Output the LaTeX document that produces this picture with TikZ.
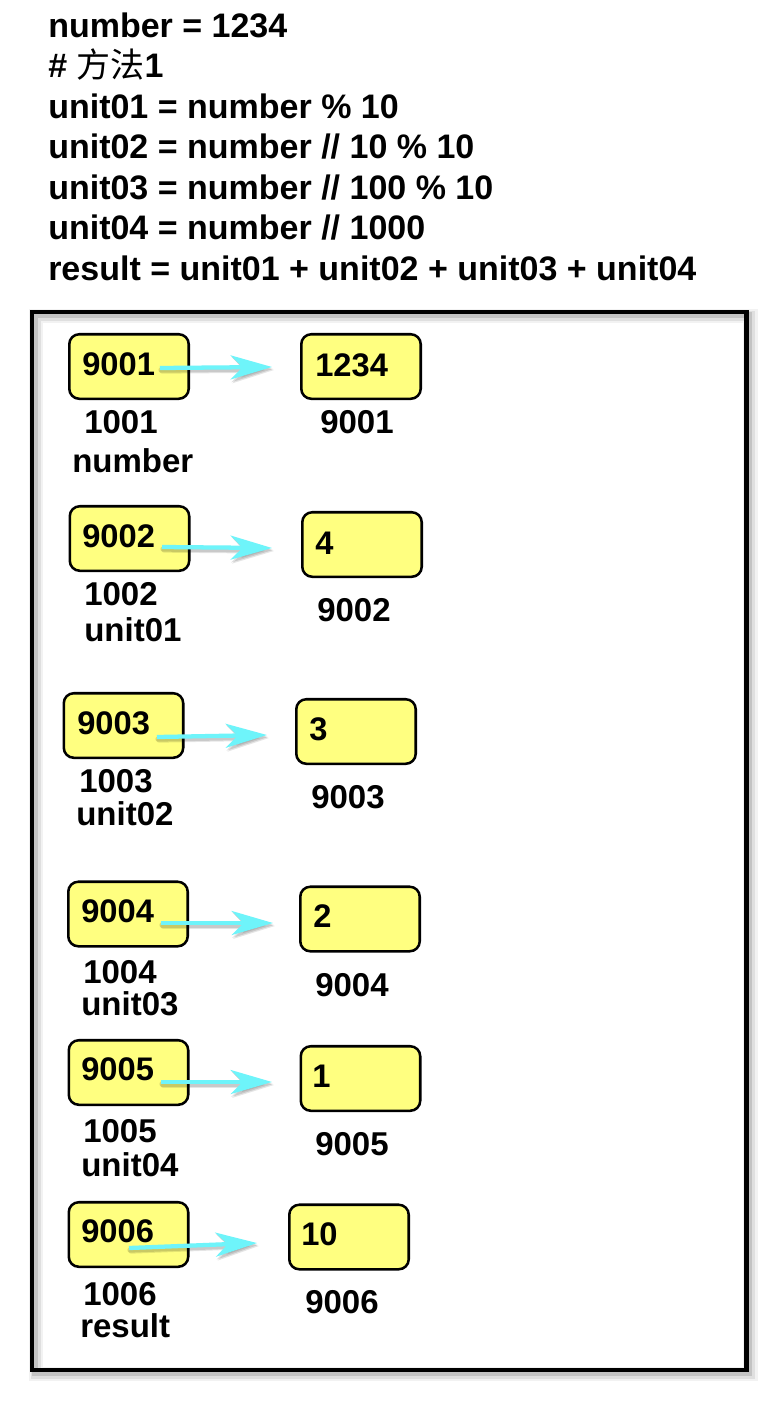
\documentclass[tikz,border=0pt]{standalone}
\usepackage{fontspec}
\setmainfont{Liberation Sans}
\newfontfamily\cjk{Noto Sans CJK SC}
\usetikzlibrary{arrows.meta}
\definecolor{boxyellow}{RGB}{255,255,128}
\definecolor{arrowcyan}{RGB}{110,244,250}
\begin{document}
\begin{tikzpicture}[x=0.75pt,y=-0.75pt,
  codetxt/.style={anchor=base west, inner sep=0, font=\fontsize{25.5}{30}\selectfont\bfseries},
  lbltxt/.style={anchor=base west, inner sep=0, font=\fontsize{24.75}{30}\selectfont\bfseries},
  boxtxt/.style={anchor=base west, inner sep=0, font=\fontsize{24.5}{28}\selectfont\bfseries},
  membox/.style={draw=black, line width=1.9pt, fill=boxyellow, rounded corners=7.5pt,
    minimum width=89.6pt, minimum height=48.4pt, inner sep=0},
  ptr/.style={draw=arrowcyan, line width=3.2pt, -{Stealth[length=31pt,width=18pt,inset=9pt]}},
  ptrshadow/.style={draw=black, opacity=#1, line width=4pt, line cap=round,
    -{Stealth[length=31pt,width=19pt,inset=9pt]}},
  frameshadow/.style={draw=black, opacity=#1}
]
\useasboundingbox (0,0) rectangle (775,1410);
\fill[white] (0,0) rectangle (775,1410);

% code lines
\node[codetxt] (c1) at (48,37) {number = 1234};
\node[codetxt] (c2) at (48,77.5) {\# {\cjk\mdseries 方法}1};
\node[codetxt] (c3) at (48,118) {unit01 = number \% 10};
\node[codetxt] (c4) at (48,158.5) {unit02 = number // 10 \% 10};
\node[codetxt] (c5) at (48,199) {unit03 = number // 100 \% 10};
\node[codetxt] (c6) at (48,239.5) {unit04 = number // 1000};
\node[codetxt] (c7) at (48,280) {result = unit01 + unit02 + unit03 + unit04};

% frame with soft shadow
\draw[frameshadow=0.05, line width=11pt] (36,316) rectangle (750.5,1374);
\draw[frameshadow=0.08, line width=7pt] (36,316) rectangle (750.5,1374);
\draw[frameshadow=0.12, line width=4pt] (35,315) rectangle (749.5,1373);
\draw[line width=3.4pt, fill=none] (32,312) rectangle (746.5,1370);

% boxes
\node[membox] (L1) at (129,366.5) {};
\node[membox] (R1) at (361,366.5) {};
\node[membox] (L2) at (129.5,538.5) {};
\node[membox] (R2) at (362,544.5) {};
\node[membox] (L3) at (123.5,725.5) {};
\node[membox] (R3) at (356,731.5) {};
\node[membox] (L4) at (128,914) {};
\node[membox] (R4) at (360,919) {};
\node[membox] (L5) at (128.5,1072.5) {};
\node[membox] (R5) at (360.5,1078.5) {};
\node[membox] (L6) at (128.5,1234.5) {};
\node[membox] (R6) at (349,1237) {};

% box contents
\node[boxtxt] (L1t) at (82,375) {9001};
\node[boxtxt] (R1t) at (315,376) {1234};
\node[boxtxt] (L2t) at (82,547) {9002};
\node[boxtxt] (R2t) at (315,554) {4};
\node[boxtxt] (L3t) at (77,734) {9003};
\node[boxtxt] (R3t) at (309,740) {3};
\node[boxtxt] (L4t) at (81,922) {9004};
\node[boxtxt] (R4t) at (313,927) {2};
\node[boxtxt] (L5t) at (81,1080) {9005};
\node[boxtxt] (R5t) at (312,1087) {1};
\node[boxtxt] (L6t) at (81,1242) {9006};
\node[boxtxt] (R6t) at (301,1245) {10};

% labels under boxes
\node[lbltxt] (a1) at (84,433) {1001};
\node[lbltxt] (n1) at (72,472) {number};
\node[lbltxt] (b1) at (320,433) {9001};
\node[lbltxt] (a2) at (84,605) {1002};
\node[lbltxt] (n2) at (84,641) {unit01};
\node[lbltxt] (b2) at (317,621) {9002};
\node[lbltxt] (a3) at (79,792) {1003};
\node[lbltxt] (n3) at (76,825) {unit02};
\node[lbltxt] (b3) at (311,808) {9003};
\node[lbltxt] (a4) at (83,983) {1004};
\node[lbltxt] (n4) at (81,1015) {unit03};
\node[lbltxt] (b4) at (315,996) {9004};
\node[lbltxt] (a5) at (83,1142) {1005};
\node[lbltxt] (n5) at (81,1176) {unit04};
\node[lbltxt] (b5) at (315,1155) {9005};
\node[lbltxt] (a6) at (83,1305) {1006};
\node[lbltxt] (n6) at (80,1337) {result};
\node[lbltxt] (b6) at (305,1313) {9006};

% arrow end points
\coordinate (s1) at (160,368);  \coordinate (t1) at (272,367);
\coordinate (s2) at (162,547);  \coordinate (t2) at (272,548);
\coordinate (s3) at (157,737);  \coordinate (t3) at (267,735);
\coordinate (s4) at (161,923);  \coordinate (t4) at (273,923);
\coordinate (s5) at (161,1082); \coordinate (t5) at (272,1082);
\coordinate (s6) at (129,1248); \coordinate (t6) at (257,1243);

% arrow shadows (soft)
\foreach \i in {1,...,6} {
  \draw[ptrshadow=0.10] ([shift={(2,3)}]s\i) -- ([shift={(2,3)}]t\i);
  \draw[ptrshadow=0.12] ([shift={(1,2)}]s\i) -- ([shift={(1,2)}]t\i);
}
% arrows
\foreach \i in {1,...,6} {
  \draw[ptr] (s\i) -- (t\i);
}
\end{tikzpicture}
\end{document}
